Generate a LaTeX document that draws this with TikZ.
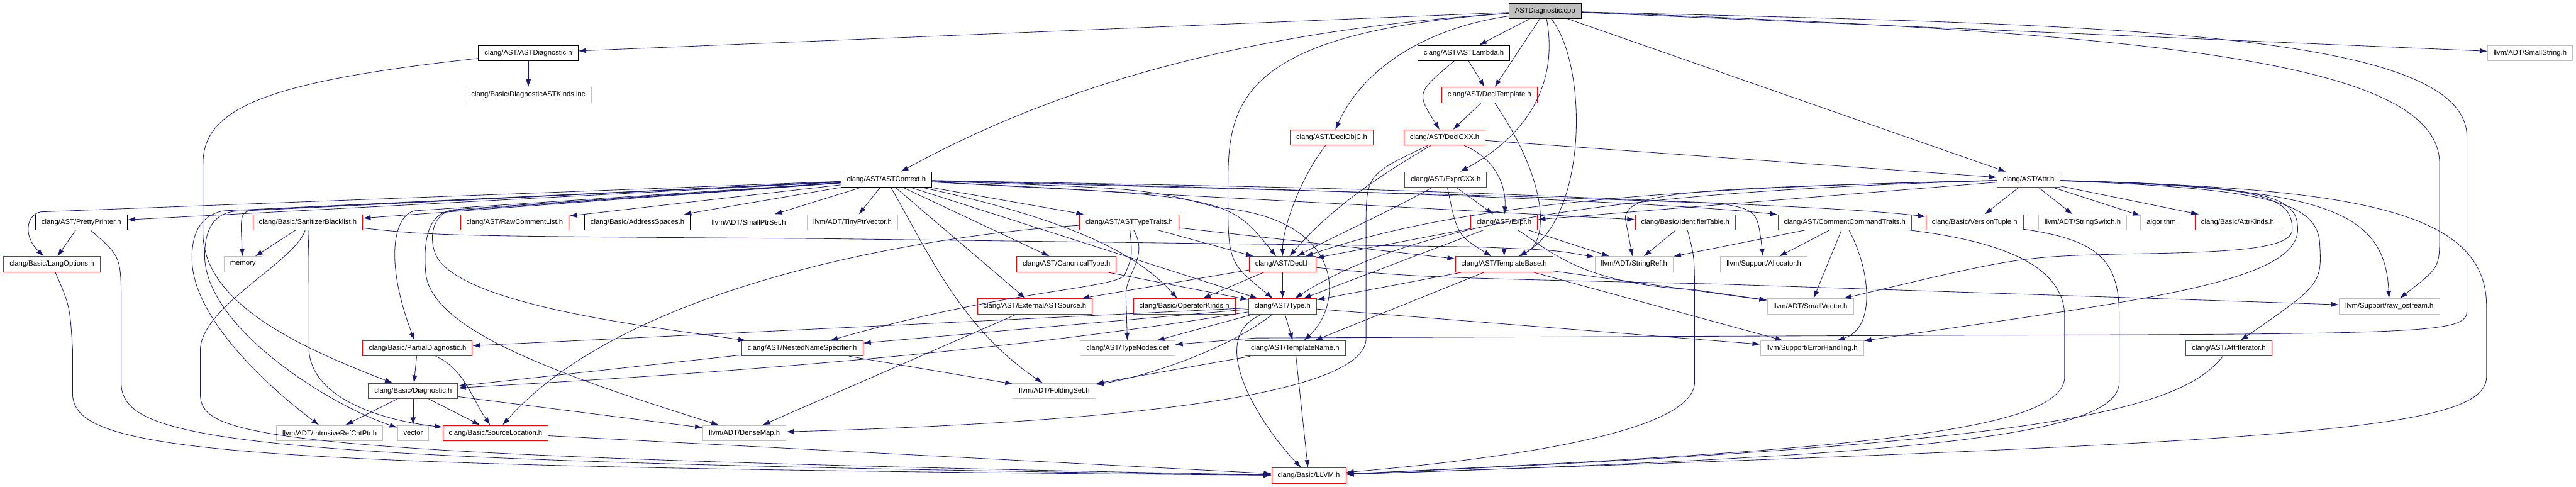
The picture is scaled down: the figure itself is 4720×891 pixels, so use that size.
\documentclass[tikz,border=0pt]{standalone}
\usepackage{fontspec}
\setmainfont{Liberation Sans}
\usetikzlibrary{arrows.meta}

\definecolor{edgeblue}{HTML}{191970}
\definecolor{boxgray}{HTML}{BFBFBF}

\begin{document}
\begin{tikzpicture}[
    x=0.02cm, y=-0.02cm,
    hfile/.style={rectangle, draw, line width=0.6pt, minimum height=0.56cm, inner xsep=0.22cm, inner ysep=0pt, font=\fontsize{7.4}{8.9}\selectfont},
    doc/.style={hfile, draw=black},
    trunc/.style={hfile, draw=red},
    ext/.style={hfile, draw=boxgray},
    srcnode/.style={hfile, draw=black, fill=boxgray},
    incl/.style={draw=edgeblue, line width=0.55pt, -{Latex[length=0.28cm, width=0.19cm]}}
]
    \useasboundingbox (0,0) rectangle (4720,891);
    \fill [white] (0,0) rectangle (4720,891);

    % Layer 0: the source file
    \node [srcnode] (cpp) at (2831,20) {ASTDiagnostic.cpp};

    % Layer 1
    \node [doc] (astdiagh) at (968,97) {clang/AST/ASTDiagnostic.h};
    \node [doc] (lambda) at (2682,97) {clang/AST/ASTLambda.h};
    \node [ext] (smallstring) at (4636,97) {llvm/ADT/SmallString.h};

    % Layer 2
    \node [ext] (diagkinds) at (968,174) {clang/Basic/DiagnosticASTKinds.inc};
    \node [trunc] (decltemplate) at (2729,174) {clang/AST/DeclTemplate.h};

    % Layer 3
    \node [trunc] (declobjc) at (2440,252) {clang/AST/DeclObjC.h};
    \node [trunc] (declcxx) at (2647,252) {clang/AST/DeclCXX.h};

    % Layer 4
    \node [doc] (astcontext) at (1624,329) {clang/AST/ASTContext.h};
    \node [trunc] (exprcxx) at (2649,329) {clang/AST/ExprCXX.h};
    \node [trunc] (attr) at (3717,329) {clang/AST/Attr.h};

    % Layer 5
    \node [doc] (pretty) at (149,407) {clang/AST/PrettyPrinter.h};
    \node [trunc] (sanitizer) at (564,407) {clang/Basic/SanitizerBlacklist.h};
    \node [trunc] (rawcomment) at (943,407) {clang/AST/RawCommentList.h};
    \node [doc] (addrspaces) at (1168,407) {clang/Basic/AddressSpaces.h};
    \node [ext] (smallptrset) at (1372,407) {llvm/ADT/SmallPtrSet.h};
    \node [ext] (tinyptrvec) at (1562,407) {llvm/ADT/TinyPtrVector.h};
    \node [trunc] (asttypetraits) at (2069,407) {clang/AST/ASTTypeTraits.h};
    \node [trunc] (expr) at (2756,407) {clang/AST/Expr.h};
    \node [trunc] (identtable) at (3088,407) {clang/Basic/IdentifierTable.h};
    \node [trunc] (commentcmd) at (3380,407) {clang/AST/CommentCommandTraits.h};
    \node [trunc] (versiontuple) at (3618,407) {clang/Basic/VersionTuple.h};
    \node [ext] (stringswitch) at (3816,407) {llvm/ADT/StringSwitch.h};
    \node [ext] (algorithm) at (3960,407) {algorithm};
    \node [trunc] (attrkinds) at (4100,407) {clang/Basic/AttrKinds.h};

    % Layer 6
    \node [trunc] (langopts) at (95,484) {clang/Basic/LangOptions.h};
    \node [ext] (memory) at (445,484) {memory};
    \node [trunc] (canonical) at (1954,484) {clang/AST/CanonicalType.h};
    \node [trunc] (decl) at (2350,484) {clang/AST/Decl.h};
    \node [trunc] (templatebase) at (2756,484) {clang/AST/TemplateBase.h};
    \node [ext] (stringref) at (2994,484) {llvm/ADT/StringRef.h};
    \node [ext] (allocator) at (3232,484) {llvm/Support/Allocator.h};

    % Layer 7
    \node [trunc] (externalast) at (1896,561) {clang/AST/ExternalASTSource.h};
    \node [trunc] (opkinds) at (2170,561) {clang/Basic/OperatorKinds.h};
    \node [trunc] (type) at (2350,561) {clang/AST/Type.h};
    \node [ext] (smallvector) at (3317,561) {llvm/ADT/SmallVector.h};
    \node [ext] (rawostream) at (4378,561) {llvm/Support/raw\_ostream.h};

    % Layer 8
    \node [trunc] (partialdiag) at (765,638) {clang/Basic/PartialDiagnostic.h};
    \node [trunc] (nns) at (1470,638) {clang/AST/NestedNameSpecifier.h};
    \node [ext] (typenodes) at (2066,638) {clang/AST/TypeNodes.def};
    \node [trunc] (templatename) at (2373,638) {clang/AST/TemplateName.h};
    \node [ext] (errorhandling) at (3320,638) {llvm/Support/ErrorHandling.h};
    \node [trunc] (attriter) at (4084,638) {clang/AST/AttrIterator.h};

    % Layer 9
    \node [trunc] (diagnostic) at (757,716) {clang/Basic/Diagnostic.h};
    \node [ext] (foldingset) at (1932,716) {llvm/ADT/FoldingSet.h};

    % Layer 10
    \node [ext] (intrusive) at (604,793) {llvm/ADT/IntrusiveRefCntPtr.h};
    \node [ext] (vector) at (757,793) {vector};
    \node [trunc] (sourceloc) at (908,793) {clang/Basic/SourceLocation.h};
    \node [ext] (densemap) at (1364,793) {llvm/ADT/DenseMap.h};

    % Layer 11
    \node [trunc] (llvm) at (2398,871) {clang/Basic/LLVM.h};

    % Connections

    % From the source file
    \path [incl] (cpp) -- (astdiagh);
    \path [incl] (cpp) .. controls (2300,55) and (1950,150) .. (astcontext);
    \path [incl] (cpp) -- (lambda);
    \path [incl] (cpp) .. controls (2620,50) and (2500,120) .. (declobjc);
    \path [incl] (cpp) -- (decltemplate);
    \path [incl] (cpp) .. controls (2850,120) and (2830,230) .. (exprcxx);
    \path [incl] (cpp) -- (attr);
    \path [incl] (cpp) .. controls (2250,60) and (2250,200) .. (2250,350) .. controls (2250,480) .. (type);
    \path [incl] (cpp) .. controls (2910,120) and (2910,400) .. (templatebase);
    \path [incl] (cpp) -- (smallstring);
    \path [incl] (cpp) .. controls (4000,60) and (4470,120) .. (4470,300) -- (4470,430) .. controls (4470,490) .. (rawostream);
    \path [incl] (cpp) .. controls (3800,45) and (4520,50) .. (4520,250) -- (4520,570) .. controls (4520,610) and (4450,612) .. (3600,614) -- (2300,619) -- (typenodes);

    % Upper headers
    \path [incl] (astdiagh) -- (diagkinds);
    \path [incl] (astdiagh) .. controls (480,150) and (372,200) .. (372,300) -- (372,430) .. controls (375,560) and (560,640) .. (diagnostic);
    \path [incl] (lambda) -- (decltemplate);
    \path [incl] (lambda) .. controls (2595,170) .. (declcxx);
    \path [incl] (decltemplate) -- (declcxx);
    \path [incl] (decltemplate) .. controls (2835,330) and (2840,440) .. (templatebase);
    \path [incl] (declobjc) .. controls (2380,330) and (2350,420) .. (decl);
    \path [incl] (declcxx) -- (attr);
    \path [incl] (declcxx) .. controls (2740,290) and (2760,340) .. (expr);
    \path [incl] (declcxx) .. controls (2530,320) and (2440,380) .. (decl);
    \path [incl] (declcxx) .. controls (2503,320) .. (2503,420) -- (2503,620) .. controls (2503,730) and (2000,775) .. (densemap);
    \path [incl] (exprcxx) -- (expr);
    \path [incl] (exprcxx) .. controls (2560,380) and (2430,440) .. (decl);
    \path [incl] (exprcxx) .. controls (2670,430) .. (templatebase);

    % Context header
    \path [incl] (astcontext) -- (pretty);
    \path [incl] (astcontext) -- (75,388) .. controls (50,392) and (40,430) .. (langopts);
    \path [incl] (astcontext) -- (sanitizer);
    \path [incl] (astcontext) -- (470,384) .. controls (440,388) .. (memory);
    \path [incl] (astcontext) -- (410,386) .. controls (360,395) and (350,440) .. (352,480) .. controls (356,580) and (480,700) .. (intrusive);
    \path [incl] (astcontext) -- (430,387) .. controls (385,392) and (375,430) .. (375,470) .. controls (378,600) and (600,740) .. (vector);
    \path [incl] (astcontext) -- (760,386) .. controls (720,395) and (705,480) .. (partialdiag);
    \path [incl] (astcontext) -- (830,384) .. controls (790,392) and (785,440) .. (800,470) .. controls (850,560) and (1200,600) .. (nns);
    \path [incl] (astcontext) -- (825,386) .. controls (785,392) and (775,440) .. (780,500) .. controls (790,600) and (1000,680) .. (densemap);
    \path [incl] (astcontext) -- (rawcomment);
    \path [incl] (astcontext) -- (addrspaces);
    \path [incl] (astcontext) -- (smallptrset);
    \path [incl] (astcontext) -- (tinyptrvec);
    \path [incl] (astcontext) -- (asttypetraits);
    \path [incl] (astcontext) -- (canonical);
    \path [incl] (astcontext) -- (externalast);
    \path [incl] (astcontext) .. controls (1700,460) and (1760,600) .. (foldingset);
    \path [incl] (astcontext) .. controls (1950,400) and (2080,460) .. (opkinds);
    \path [incl] (astcontext) -- (type);
    \path [incl] (astcontext) .. controls (2250,360) .. (decl);
    \path [incl] (astcontext) .. controls (2100,345) .. (2230,380) .. controls (2470,400) and (2460,560) .. (templatename);
    \path [incl] (astcontext) -- (identtable);
    \path [incl] (astcontext) .. controls (2600,350) and (3100,375) .. (commentcmd);
    \path [incl] (astcontext) .. controls (2600,355) and (3300,370) .. (versiontuple);
    \path [incl] (astcontext) .. controls (2500,345) .. (3150,372) .. controls (3220,385) .. (allocator);

    % Middle headers
    \path [incl] (pretty) -- (langopts);
    \path [incl] (pretty) .. controls (222,470) .. (222,560) -- (222,700) .. controls (222,810) and (420,845) .. (llvm);
    \path [incl] (langopts) .. controls (128,560) .. (133,640) -- (133,720) .. controls (133,830) and (400,855) .. (llvm);
    \path [incl] (sanitizer) -- (memory);
    \path [incl] (sanitizer) .. controls (540,480) and (370,560) .. (367,640) -- (367,720) .. controls (367,800) and (450,835) .. (llvm);
    \path [incl] (sanitizer) .. controls (566,470) .. (566,560) -- (566,640) .. controls (570,730) and (700,770) .. (sourceloc);
    \path [incl] (sanitizer) .. controls (800,432) .. (1500,437) -- (2700,452) .. controls (2850,458) .. (stringref);
    \path [incl] (asttypetraits) -- (decl);
    \path [incl] (asttypetraits) -- (templatebase);
    \path [incl] (asttypetraits) .. controls (2075,470) .. (2060,505) .. controls (2030,530) and (1850,530) .. (nns);
    \path [incl] (asttypetraits) .. controls (2105,470) and (2063,500) .. (2063,540) -- (typenodes);
    \path [incl] (asttypetraits) .. controls (1700,430) and (1150,520) .. (sourceloc);
    \path [incl] (expr) -- (templatebase);
    \path [incl] (expr) -- (decl);
    \path [incl] (expr) -- (type);
    \path [incl] (expr) -- (stringref);
    \path [incl] (expr) .. controls (2830,450) and (2890,520) .. (3100,530) -- (smallvector);
    \path [incl] (identtable) -- (stringref);
    \path [incl] (identtable) .. controls (3105,470) .. (3105,560) -- (3105,700) .. controls (3105,800) and (2700,845) .. (llvm);
    \path [incl] (commentcmd) -- (stringref);
    \path [incl] (commentcmd) -- (allocator);
    \path [incl] (commentcmd) -- (smallvector);
    \path [incl] (commentcmd) .. controls (3425,490) and (3440,600) .. (errorhandling);
    \path [incl] (commentcmd) .. controls (3650,440) and (3783,480) .. (3783,580) -- (3783,690) .. controls (3783,790) and (3400,825) .. (llvm);
    \path [incl] (versiontuple) .. controls (3850,440) and (3883,480) .. (3883,580) -- (3883,700) .. controls (3883,800) and (3500,835) .. (llvm);

    % Attribute header
    \path [incl] (attr) -- (versiontuple);
    \path [incl] (attr) -- (stringswitch);
    \path [incl] (attr) -- (algorithm);
    \path [incl] (attr) -- (attrkinds);
    \path [incl] (attr) -- (expr);
    \path [incl] (attr) .. controls (3000,345) and (2650,380) .. (decl);
    \path [incl] (attr) .. controls (3000,350) and (2600,400) .. (type);
    \path [incl] (attr) .. controls (3100,345) and (2980,350) .. (2978,400) -- (stringref);
    \path [incl] (attr) .. controls (4150,345) and (4240,370) .. (4250,440) .. controls (4255,520) .. (attriter);
    \path [incl] (attr) .. controls (4250,345) and (4370,380) .. (rawostream);
    \path [incl] (attr) .. controls (4150,340) and (4200,360) .. (4200,420) .. controls (4200,455) and (4100,462) .. (3900,465) .. controls (3700,470) .. (smallvector);
    \path [incl] (attr) .. controls (4160,340) and (4210,360) .. (4210,420) .. controls (4210,520) and (3900,553) .. (errorhandling);
    \path [incl] (attr) .. controls (4300,345) and (4556,380) .. (4556,560) -- (4556,690) .. controls (4556,790) and (4200,810) .. (llvm);

    % Lower headers
    \path [incl] (canonical) -- (type);
    \path [incl] (decl) -- (type);
    \path [incl] (decl) -- (externalast);
    \path [incl] (decl) -- (opkinds);
    \path [incl] (decl) .. controls (2600,508) .. (3140,520) -- (rawostream);
    \path [incl] (templatebase) -- (type);
    \path [incl] (templatebase) -- (templatename);
    \path [incl] (templatebase) -- (smallvector);
    \path [incl] (templatebase) -- (errorhandling);
    \path [incl] (externalast) -- (densemap);
    \path [incl] (type) -- (templatename);
    \path [incl] (type) -- (typenodes);
    \path [incl] (type) -- (nns);
    \path [incl] (type) -- (partialdiag);
    \path [incl] (type) .. controls (1700,668) and (1000,700) .. (diagnostic);
    \path [incl] (type) .. controls (2250,640) and (2100,690) .. (foldingset);
    \path [incl] (type) .. controls (2200,620) and (2320,790) .. (llvm);
    \path [incl] (type) -- (errorhandling);
    \path [incl] (templatename) -- (foldingset);
    \path [incl] (templatename) -- (llvm);
    \path [incl] (nns) -- (diagnostic);
    \path [incl] (nns) -- (foldingset);
    \path [incl] (partialdiag) -- (diagnostic);
    \path [incl] (partialdiag) .. controls (850,675) and (865,730) .. (sourceloc);
    \path [incl] (diagnostic) -- (intrusive);
    \path [incl] (diagnostic) -- (vector);
    \path [incl] (diagnostic) -- (sourceloc);
    \path [incl] (diagnostic) -- (densemap);
    \path [incl] (sourceloc) -- (llvm);
    \path [incl] (attriter) .. controls (3990,760) and (3700,815) .. (llvm);

\end{tikzpicture}
\end{document}
